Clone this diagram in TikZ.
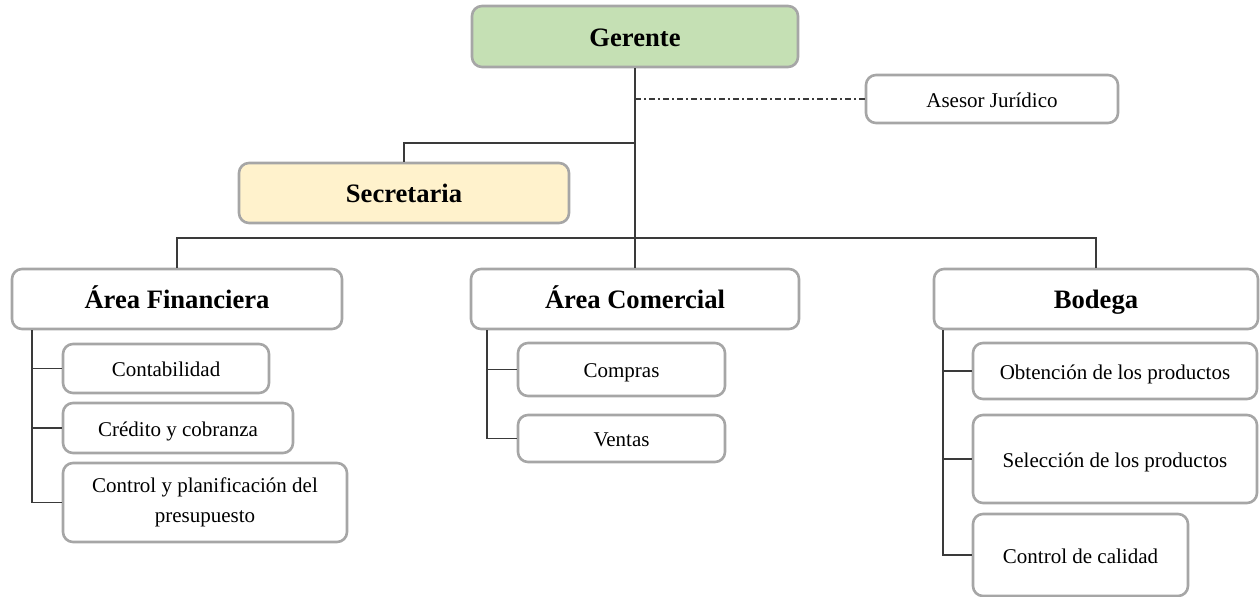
\documentclass[tikz,border=0pt]{standalone}
\usepackage{fontspec}
\setmainfont{Liberation Serif}
\usetikzlibrary{positioning,calc}
\definecolor{bordegris}{HTML}{A6A6A6}
\definecolor{lineaosc}{HTML}{3A3A3A}
\definecolor{verdeger}{HTML}{C5E0B4}
\definecolor{amarsec}{HTML}{FFF2CC}
\tikzset{
  % cajas
  caja/.style={draw=bordegris,fill=white,line width=1.3pt,rounded corners=5pt,
               inner sep=2pt,align=center,text height=10pt,text depth=1.5pt,
               font=\fontsize{10.5}{15}\selectfont},
  jefe/.style={caja,text height=12.5pt,text depth=2.5pt,font=\fontsize{13.3}{16}\selectfont\bfseries},
  % conectores
  linea/.style={draw=lineaosc,line width=0.8pt},
  punteado/.style={draw=lineaosc,line width=0.7pt,dash pattern=on 3pt off 1.5pt on 1pt off 1.5pt},
}
\begin{document}
\begin{tikzpicture}[x=0.5pt,y=-0.5pt]
  \useasboundingbox (0,0) rectangle (1260,597);
  % direccion
  \node[jefe,fill=verdeger,minimum width=163pt,minimum height=30.5pt] (ger) at (635,36.5) {Gerente};
  \node[caja,minimum width=126pt,minimum height=24pt] (ases) at (992,99) {Asesor Jurídico};
  \node[jefe,fill=amarsec,minimum width=165pt,minimum height=30pt] (sec) at (404,193) {Secretaria};
  % areas
  \node[jefe,minimum width=165pt,minimum height=30pt] (fin) at (177,299) {Área Financiera};
  \node[jefe,minimum width=164pt,minimum height=30pt] (com) at (635,299) {Área Comercial};
  \node[jefe,minimum width=162pt,minimum height=30pt] (bod) at (1096,299) {Bodega};
  % subareas
  \node[caja,minimum width=103pt,minimum height=24.5pt] (conta) at (166,368.5) {Contabilidad};
  \node[caja,minimum width=115pt,minimum height=25pt] (cred) at (178,428) {Crédito y cobranza};
  \node[caja,text height=,text depth=,minimum width=142pt,minimum height=39.5pt] (ctrl) at (205,502.5)
    {Control y planificación del\\presupuesto};
  \node[caja,minimum width=103.5pt,minimum height=26.5pt] (compr) at (621.5,369.5) {Compras};
  \node[caja,minimum width=103.5pt,minimum height=23.5pt] (vent) at (621.5,438.5) {Ventas};
  \node[caja,minimum width=142pt,minimum height=28pt] (obt) at (1115,371) {Obtención de los productos};
  \node[caja,minimum width=142pt,minimum height=44pt] (sel) at (1115,459) {Selección de los productos};
  \node[caja,minimum width=107.5pt,minimum height=41pt] (cal) at (1080.5,555) {Control de calidad};

  \coordinate (ramal) at (635,99);
  \coordinate (codo) at (635,143);
  \coordinate (bus) at (635,238);
  \draw[linea] (ger.south) -- (bus);
  \draw[punteado] (ramal) -- (ases.west);
  \draw[linea] (sec.north) |- (codo);
  \draw[linea] (fin.north) |- (bus) -| (bod.north);
  \draw[linea] (bus) -- (com.north);
  \foreach \h in {conta,cred,ctrl} \draw[linea] ([xshift=10.5pt]fin.south west) |- (\h.west);
  \foreach \h in {compr,vent} \draw[linea] ([xshift=8.5pt]com.south west) |- (\h.west);
  \foreach \h in {obt,sel,cal} \draw[linea] ([xshift=5pt]bod.south west) |- (\h.west);
\end{tikzpicture}
\end{document}
